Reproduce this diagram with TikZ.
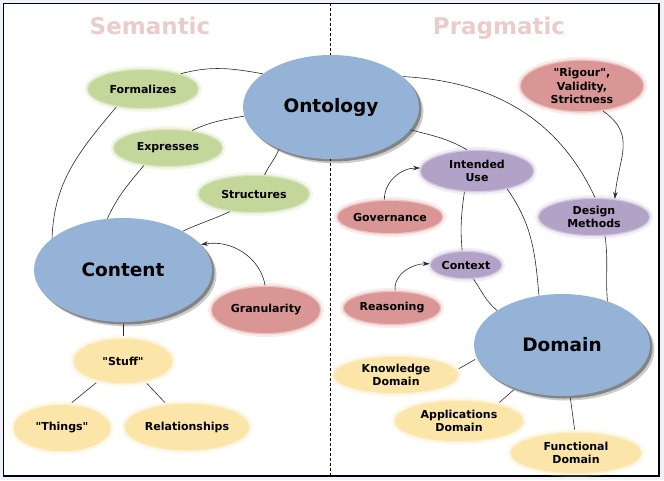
\documentclass[tikz,border=0pt]{standalone}
\usepackage{fontspec}
\setmainfont{DejaVu Sans}
\usetikzlibrary{shapes.geometric,arrows.meta,shadows}
\definecolor{bg}{RGB}{237,242,250}
\definecolor{bigblue}{RGB}{149,179,215}
\definecolor{sgreen}{RGB}{196,215,155}
\definecolor{sred}{RGB}{217,150,148}
\definecolor{spurple}{RGB}{179,162,199}
\definecolor{syellow}{RGB}{252,229,168}
\definecolor{hdr}{RGB}{234,204,204}
\definecolor{conncol}{RGB}{40,40,40}
\tikzset{
 big/.style={ellipse, fill=bigblue, inner sep=0pt, font=\fontsize{18.5}{20}\selectfont\bfseries,
   drop shadow={shadow xshift=4.5pt,shadow yshift=-4.5pt,opacity=0.2,fill=black},
   drop shadow={shadow xshift=2.5pt,shadow yshift=-2.5pt,opacity=0.35,fill=black}},
 small/.style={ellipse, inner sep=0pt, align=center, font=\fontsize{11}{13.5}\selectfont\bfseries,
   fill=#1, draw=#1, draw opacity=0.45, line width=3pt,
   preaction={draw=#1, draw opacity=0.18, line width=8pt}},
 conn/.style={draw=conncol, line width=0.6pt},
 straight/.style={conn, shorten <=2pt, shorten >=2pt},
 arr/.style={conn, -{Stealth[length=7pt,width=4.5pt]}},
 hdrtext/.style={text=hdr, anchor=base, font=\fontsize{23}{25}\selectfont\bfseries},
}
\newcommand{\qq}{\textquotedbl}
\begin{document}
\begin{tikzpicture}[x=1pt,y=1pt]
\useasboundingbox (0,0) rectangle (664,480);
\fill[bg] (0,0) rectangle (664,480);
\draw[line width=1.5pt, fill=white] (3.5,4) rectangle (659,476.5);
\draw[dash pattern=on 3pt off 2pt, line width=0.7pt] (330,4) -- (330,476.5);

\node[hdrtext] (semantic) at (150,445) {Semantic};
\node[hdrtext] (pragmatic) at (499,445) {Pragmatic};

% big nodes
\node[big, minimum width=176pt, minimum height=104pt] (ontology) at (331,373) {Ontology};
\node[big, minimum width=178pt, minimum height=104pt] (content) at (123,210) {Content};
\node[big, minimum width=176pt, minimum height=102pt] (domain) at (562,135) {Domain};

% green
\node[small=sgreen, minimum width=110pt, minimum height=38pt] (formalizes) at (143,391) {Formalizes};
\node[small=sgreen, minimum width=108pt, minimum height=36pt] (expresses) at (168,332) {Expresses};
\node[small=sgreen, minimum width=110pt, minimum height=36pt] (structures) at (254,286) {Structures};
% red
\node[small=sred, minimum width=108pt, minimum height=46pt] (granularity) at (266,170) {Granularity};
\node[small=sred, minimum width=122pt, minimum height=48pt] (rigour) at (582,394) {\qq Rigour\qq,\\Validity,\\Strictness};
\node[small=sred, minimum width=102pt, minimum height=32pt] (governance) at (390,263) {Governance};
\node[small=sred, minimum width=96pt, minimum height=32pt] (reasoning) at (392,172) {Reasoning};
% purple
\node[small=spurple, minimum width=112pt, minimum height=40pt] (intended) at (477,309) {Intended\\Use};
\node[small=spurple, minimum width=110pt, minimum height=36pt] (design) at (594,263) {Design\\Methods};
\node[small=spurple, minimum width=70pt, minimum height=26pt] (context) at (466,215) {Context};
% yellow
\node[small=syellow, minimum width=98pt, minimum height=44pt] (stuff) at (123,119) {\qq Stuff\qq};
\node[small=syellow, minimum width=96pt, minimum height=46pt] (things) at (62,52) {\qq Things\qq};
\node[small=syellow, minimum width=124pt, minimum height=46pt] (relationships) at (187,53) {Relationships};
\node[small=syellow, minimum width=124pt, minimum height=36pt] (knowledge) at (396,105) {Knowledge\\Domain};
\node[small=syellow, minimum width=128pt, minimum height=40pt] (applications) at (459,59) {Applications\\Domain};
\node[small=syellow, minimum width=130pt, minimum height=40pt] (functional) at (576,27) {Functional\\Domain};

% connectors, semantic side
\draw[conn] (content.156) to[out=88,in=230] (formalizes.214);
\draw[conn] (formalizes.22) to[out=15,in=170] (ontology.154);
\draw[conn] (content.107) to[out=65,in=230] (expresses.216);
\draw[conn] (expresses.36) to[out=25,in=190] (ontology.186);
\draw[conn] (ontology.219) to[out=248,in=65] (structures.61);
\draw[conn] (structures.216) to[out=205,in=25] (content.33);
\draw[arr] (granularity.92) to[out=100,in=10] (content.18);
\draw[straight] (content.270) -- (stuff.90);
\draw[straight] (stuff.219) -- (things.71);
\draw[straight] (stuff.317) -- (relationships.132);

% connectors, pragmatic side
\draw[conn] (ontology.23) to[out=-3,in=115] (design.87);
\draw[conn] (design.300) to[out=-82,in=95] (domain.44);
\draw[conn] (ontology.344) to[out=-15,in=150] (intended.115);
\draw[conn] (intended.329) to[out=-55,in=95] (domain.115);
\draw[conn] (intended.239) to[out=262,in=95] (context.105);
\draw[conn] (context.298) to[out=-55,in=140] (domain.152);
\draw[arr] (governance.108) to[out=90,in=180] (intended.177);
\draw[arr] (reasoning.80) to[out=95,in=180] (context.178);
\draw[arr] (rigour.310) to[out=-35,in=85, looseness=1.2] (design.41);
\draw[straight] (domain.189) -- (knowledge.5);
\draw[straight] (domain.223) -- (applications.24);
\draw[straight] (domain.279) -- (functional.93);
\end{tikzpicture}
\end{document}
